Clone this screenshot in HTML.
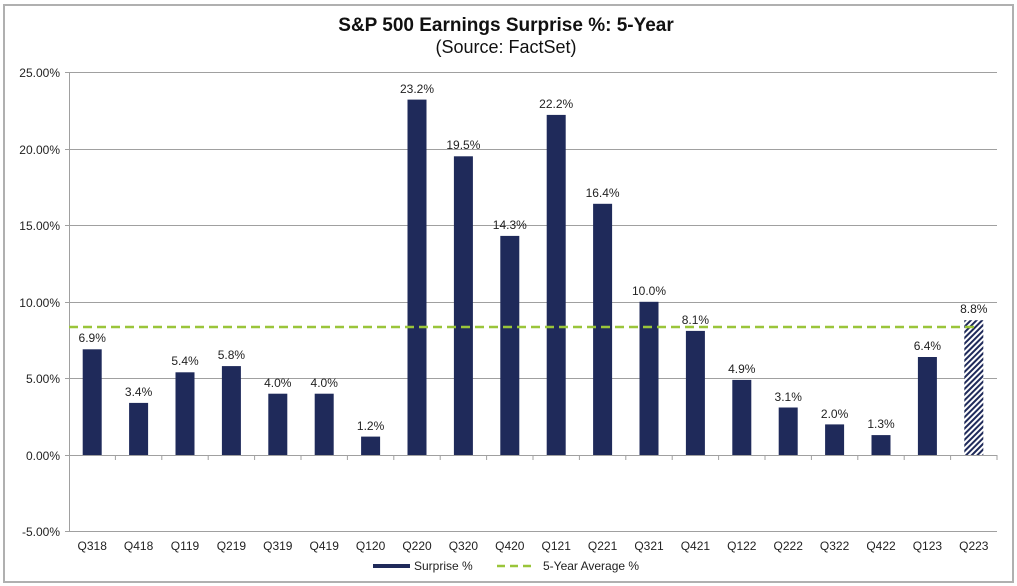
<!DOCTYPE html>
<html><head><meta charset="utf-8"><style>
html,body{margin:0;padding:0;background:#fff;width:1017px;height:586px;overflow:hidden}
text{font-family:"Liberation Sans",Arial,sans-serif}
</style></head><body>
<svg width="1017" height="586" xmlns="http://www.w3.org/2000/svg">
<defs>
<pattern id="h" width="4" height="4" patternUnits="userSpaceOnUse" patternTransform="rotate(45)">
<rect width="4" height="4" fill="#fff"/><rect width="2" height="4" fill="#1f2a5a"/>
</pattern>
</defs>
<rect x="4" y="5" width="1009" height="577" fill="#fff" stroke="#b0b0b0" stroke-width="2"/>
<text x="506" y="31" text-anchor="middle" font-size="19" font-weight="bold" fill="#111">S&amp;P 500 Earnings Surprise %: 5-Year</text>
<text x="506" y="53" text-anchor="middle" font-size="18" fill="#111">(Source: FactSet)</text>
<g stroke="#a0a0a0" stroke-width="1">
<line x1="69" y1="72.5" x2="997" y2="72.5"/>
<line x1="69" y1="149.5" x2="997" y2="149.5"/>
<line x1="69" y1="225.5" x2="997" y2="225.5"/>
<line x1="69" y1="302.5" x2="997" y2="302.5"/>
<line x1="69" y1="378.5" x2="997" y2="378.5"/>
<line x1="69" y1="531.5" x2="997" y2="531.5"/>
<line x1="69.5" y1="72" x2="69.5" y2="531"/>
<line x1="65" y1="72.5" x2="69" y2="72.5"/>
<line x1="65" y1="149.5" x2="69" y2="149.5"/>
<line x1="65" y1="225.5" x2="69" y2="225.5"/>
<line x1="65" y1="302.5" x2="69" y2="302.5"/>
<line x1="65" y1="378.5" x2="69" y2="378.5"/>
<line x1="65" y1="455.5" x2="69" y2="455.5"/>
<line x1="65" y1="531.5" x2="69" y2="531.5"/>
<line x1="115.4" y1="455" x2="115.4" y2="460"/><line x1="161.8" y1="455" x2="161.8" y2="460"/>
<line x1="208.2" y1="455" x2="208.2" y2="460"/><line x1="254.6" y1="455" x2="254.6" y2="460"/>
<line x1="301" y1="455" x2="301" y2="460"/><line x1="347.4" y1="455" x2="347.4" y2="460"/>
<line x1="393.8" y1="455" x2="393.8" y2="460"/><line x1="440.2" y1="455" x2="440.2" y2="460"/>
<line x1="486.6" y1="455" x2="486.6" y2="460"/><line x1="533" y1="455" x2="533" y2="460"/>
<line x1="579.4" y1="455" x2="579.4" y2="460"/><line x1="625.8" y1="455" x2="625.8" y2="460"/>
<line x1="672.2" y1="455" x2="672.2" y2="460"/><line x1="718.6" y1="455" x2="718.6" y2="460"/>
<line x1="765" y1="455" x2="765" y2="460"/><line x1="811.4" y1="455" x2="811.4" y2="460"/>
<line x1="857.8" y1="455" x2="857.8" y2="460"/><line x1="904.2" y1="455" x2="904.2" y2="460"/>
<line x1="950.6" y1="455" x2="950.6" y2="460"/><line x1="997" y1="455" x2="997" y2="460"/>
</g>
<g font-size="12" fill="#222" text-anchor="end">
<text x="60" y="77">25.00%</text><text x="60" y="154">20.00%</text><text x="60" y="230">15.00%</text>
<text x="60" y="307">10.00%</text><text x="60" y="383">5.00%</text><text x="60" y="460">0.00%</text><text x="60" y="536">-5.00%</text>
</g>
<g fill="#1f2a5a">
<rect x="82.7" y="349.3" width="19" height="105.7"/>
<rect x="129.1" y="402.9" width="19" height="52.1"/>
<rect x="175.5" y="372.3" width="19" height="82.7"/>
<rect x="221.9" y="366.1" width="19" height="88.9"/>
<rect x="268.3" y="393.7" width="19" height="61.3"/>
<rect x="314.7" y="393.7" width="19" height="61.3"/>
<rect x="361.1" y="436.6" width="19" height="18.4"/>
<rect x="407.5" y="99.6" width="19" height="355.4"/>
<rect x="453.9" y="156.3" width="19" height="298.7"/>
<rect x="500.3" y="235.9" width="19" height="219.1"/>
<rect x="546.7" y="114.9" width="19" height="340.1"/>
<rect x="593.1" y="203.8" width="19" height="251.2"/>
<rect x="639.5" y="301.8" width="19" height="153.2"/>
<rect x="685.9" y="330.9" width="19" height="124.1"/>
<rect x="732.3" y="379.9" width="19" height="75.1"/>
<rect x="778.7" y="407.5" width="19" height="47.5"/>
<rect x="825.1" y="424.4" width="19" height="30.6"/>
<rect x="871.5" y="435.1" width="19" height="19.9"/>
<rect x="917.9" y="357.0" width="19" height="98"/>
</g>
<rect x="964.3" y="320.2" width="19" height="134.8" fill="url(#h)"/>
<g font-size="12" fill="#222" text-anchor="middle">
<text x="92.2" y="342">6.9%</text><text x="138.6" y="396">3.4%</text><text x="185" y="365">5.4%</text>
<text x="231.4" y="359">5.8%</text><text x="277.8" y="387">4.0%</text><text x="324.2" y="387">4.0%</text>
<text x="370.6" y="430">1.2%</text><text x="417" y="93">23.2%</text><text x="463.4" y="149">19.5%</text>
<text x="509.8" y="229">14.3%</text><text x="556.2" y="108">22.2%</text><text x="602.6" y="197">16.4%</text>
<text x="649" y="295">10.0%</text><text x="695.4" y="324">8.1%</text><text x="741.8" y="373">4.9%</text>
<text x="788.2" y="401">3.1%</text><text x="834.6" y="418">2.0%</text><text x="881" y="428">1.3%</text>
<text x="927.4" y="350">6.4%</text><text x="973.8" y="313">8.8%</text>
<text x="92.2" y="550">Q318</text><text x="138.6" y="550">Q418</text><text x="185" y="550">Q119</text>
<text x="231.4" y="550">Q219</text><text x="277.8" y="550">Q319</text><text x="324.2" y="550">Q419</text>
<text x="370.6" y="550">Q120</text><text x="417" y="550">Q220</text><text x="463.4" y="550">Q320</text>
<text x="509.8" y="550">Q420</text><text x="556.2" y="550">Q121</text><text x="602.6" y="550">Q221</text>
<text x="649" y="550">Q321</text><text x="695.4" y="550">Q421</text><text x="741.8" y="550">Q122</text>
<text x="788.2" y="550">Q222</text><text x="834.6" y="550">Q322</text><text x="881" y="550">Q422</text>
<text x="927.4" y="550">Q123</text><text x="973.8" y="550">Q223</text>
</g>
<line x1="69" y1="455.5" x2="997" y2="455.5" stroke="#a0a0a0"/>
<line x1="69" y1="327" x2="975" y2="327" stroke="#9ac53a" stroke-width="2.5" stroke-dasharray="9,5"/>
<line x1="373" y1="566" x2="410" y2="566" stroke="#1f2a5a" stroke-width="4"/>
<text x="414" y="570" font-size="12" fill="#222">Surprise %</text>
<line x1="497" y1="566" x2="535" y2="566" stroke="#9ac53a" stroke-width="2.5" stroke-dasharray="8,5"/>
<text x="543" y="570" font-size="12" fill="#222">5-Year Average %</text>
</svg>
</body></html>
